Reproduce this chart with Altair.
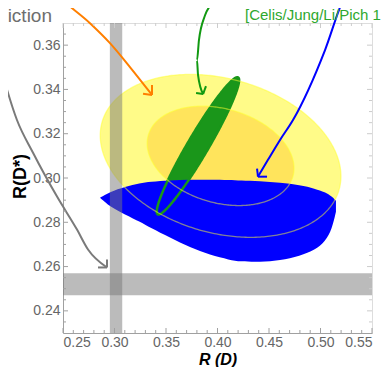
import altair as alt
import numpy as np
import pandas as pd

# ---------------- axes ----------------
x_domain = [0.25, 0.55]
y_domain = [0.23, 0.37]
x_major = [0.25, 0.30, 0.35, 0.40, 0.45, 0.50, 0.55]
y_major = [0.24, 0.26, 0.28, 0.30, 0.32, 0.34, 0.36]
x_minor = [0.26, 0.27, 0.28, 0.29, 0.31, 0.32, 0.33, 0.34, 0.36, 0.37, 0.38, 0.39,
           0.41, 0.42, 0.43, 0.44, 0.46, 0.47, 0.48, 0.49, 0.51, 0.52, 0.53, 0.54]
y_minor = [0.235, 0.245, 0.25, 0.255, 0.265, 0.27, 0.275, 0.285, 0.29, 0.295,
           0.305, 0.31, 0.315, 0.325, 0.33, 0.335, 0.345, 0.35, 0.355, 0.365]

# ---------------- experimental average (yellow) ----------------
exp_center = [0.403, 0.310]
exp_sigma = [0.047, 0.0148]
exp_rho = -0.25
exp_dchi2 = [6.18, 2.30]          # outer, inner
exp_colors = ["#fffb88", "#ffe45c"]

# ---------------- Celis/Jung/Li/Pich (green) ----------------
cel_center = [0.381, 0.3145]
cel_sigma = [0.040, 0.031]
cel_rho = 0.957

# ---------------- blue region boundary ----------------
blue_x = [0.2859, 0.2956, 0.3102, 0.3248, 0.3345, 0.3539, 0.3733, 0.3927, 0.4120,
          0.4218, 0.4413, 0.4607, 0.4801, 0.4947, 0.5044, 0.5112, 0.5150]
blue_upper = [0.2911, 0.2938, 0.2961, 0.2977, 0.2983, 0.2990, 0.2992, 0.2992, 0.2991,
              0.2988, 0.2986, 0.2979, 0.2968, 0.2952, 0.2936, 0.2916, 0.2897]
blue_lower = [0.2911, 0.2871, 0.2835, 0.2803, 0.2776, 0.2731, 0.2686, 0.2652, 0.2630,
              0.2623, 0.2620, 0.2628, 0.2648, 0.2676, 0.2712, 0.2770, 0.2848]

# ---------------- SM prediction bands ----------------
sm_rd = [0.2955, 0.3075]
sm_rds = [0.247, 0.257]

# ---------------- arrows ----------------
arrows = {
    "orange": dict(x=[0.2422, 0.2500, 0.2762, 0.2956, 0.3150, 0.3364],
                   y=[0.3839, 0.3803, 0.3699, 0.3609, 0.3501, 0.3375],
                   head=[(0.3277, 0.3380), (0.3364, 0.3420)], color="#ff7f00"),
    "gray": dict(x=[0.1811, 0.1888, 0.2053, 0.2209, 0.2442, 0.2636, 0.2743, 0.2927],
                 y=[0.3645, 0.3510, 0.3262, 0.3114, 0.2916, 0.2767, 0.2677, 0.2596],
                 head=[(0.2840, 0.2596), (0.2927, 0.2632)], color="#7a7a7a"),
    "green": dict(x=[0.3966, 0.3947, 0.3879, 0.3820, 0.3801, 0.3811, 0.3860],
                  y=[0.3839, 0.3803, 0.3735, 0.3623, 0.3532, 0.3465, 0.3379],
                  head=[(0.3792, 0.3384), (0.3888, 0.3415)], color="#119911"),
    "blue": dict(x=[0.5257, 0.5218, 0.5044, 0.4733, 0.4607, 0.4490, 0.4393],
                 y=[0.3839, 0.3803, 0.3578, 0.3262, 0.3172, 0.3082, 0.3006],
                 head=[(0.4481, 0.3006), (0.4384, 0.3042)], color="#0000ff"),
}

W, H = 309, 310


def ellipse_fill(c, s, rho, k):
    t = np.linspace(0, np.pi, 181)
    r = np.sqrt(1 - rho ** 2)
    x = c[0] + k * s[0] * np.cos(t)
    yu = c[1] + k * s[1] * (rho * np.cos(t) + r * np.sin(t))
    yl = c[1] + k * s[1] * (rho * np.cos(t) - r * np.sin(t))
    return pd.DataFrame({"x": x, "y": yu, "y2": yl})


def ellipse_line(c, s, rho, k, name):
    t = np.linspace(0, 2 * np.pi, 361)
    r = np.sqrt(1 - rho ** 2)
    x = c[0] + k * s[0] * np.cos(t)
    y = c[1] + k * s[1] * (rho * np.cos(t) + r * np.sin(t))
    return pd.DataFrame({"x": x, "y": y, "t": t, "g": name})


xs = alt.Scale(domain=x_domain, nice=False, zero=False)
ys = alt.Scale(domain=y_domain, nice=False, zero=False)
FONT = "Liberation Sans"

xaxis = alt.Axis(values=x_major, format=".2f", ticks=False, grid=False,
                 labelFontSize=14, labelColor="#666666", labelFont=FONT, labelPadding=2,
                 domainColor="#a0a0a0", title="R (D)", titleFont=FONT,
                 titleFontSize=16, titleFontWeight="bold", titleFontStyle="italic",
                 titleColor="black", titleBaseline="alphabetic", titleY=31)
yaxis = alt.Axis(values=y_major, format=".2f", ticks=False, grid=False,
                 labelFontSize=14, labelColor="#666666", labelFont=FONT, labelPadding=3,
                 domainColor="#a0a0a0", title="R(D*)", titleFont=FONT,
                 titleFontSize=18, titleFontWeight="bold", titleColor="black",
                 titleBaseline="alphabetic", titleAngle=270, titleAlign="center",
                 titleX=-38, titleY=153)

layers = []

# yellow fills
for k2, col in zip(exp_dchi2, exp_colors):
    df = ellipse_fill(exp_center, exp_sigma, exp_rho, np.sqrt(k2))
    layers.append(alt.Chart(df).mark_area(color=col, interpolate="linear").encode(
        x=alt.X("x:Q", scale=xs, axis=xaxis),
        y=alt.Y("y:Q", scale=ys, axis=yaxis),
        y2="y2:Q"))

# green fill
gdf = ellipse_fill(cel_center, cel_sigma, cel_rho, 1.0)
layers.append(alt.Chart(gdf).mark_area(color="#1a961a").encode(
    x=alt.X("x:Q", scale=xs), y=alt.Y("y:Q", scale=ys), y2="y2:Q"))

# blue region
bdf = pd.DataFrame({"x": blue_x, "y": blue_upper, "y2": blue_lower})
layers.append(alt.Chart(bdf).mark_area(color="#0000ff", interpolate="basis").encode(
    x=alt.X("x:Q", scale=xs), y=alt.Y("y:Q", scale=ys), y2="y2:Q"))

# green outline
gl = ellipse_line(cel_center, cel_sigma, cel_rho, 1.0, "g")
layers.append(alt.Chart(gl).mark_line(color="#1a961a", strokeWidth=2.5).encode(
    x=alt.X("x:Q", scale=xs), y=alt.Y("y:Q", scale=ys), order="t:Q"))

# yellow outlines
yl = pd.concat([ellipse_line(exp_center, exp_sigma, exp_rho, np.sqrt(k2), str(k2))
                for k2 in exp_dchi2])
layers.append(alt.Chart(yl).mark_line(color="#ffff30", opacity=0.5, strokeWidth=1.3).encode(
    x=alt.X("x:Q", scale=xs), y=alt.Y("y:Q", scale=ys), order="t:Q", detail="g:N"))

# SM bands
band_df = pd.DataFrame({
    "x": [sm_rd[0], x_domain[0]], "x2": [sm_rd[1], x_domain[1]],
    "y": [y_domain[0], sm_rds[0]], "y2": [y_domain[1], sm_rds[1]]})
layers.append(alt.Chart(band_df).mark_rect(color="#787878", opacity=0.5).encode(
    x=alt.X("x:Q", scale=xs), x2="x2:Q", y=alt.Y("y:Q", scale=ys), y2="y2:Q"))

# arrows
for name, a in arrows.items():
    adf = pd.DataFrame({"x": a["x"], "y": a["y"], "i": range(len(a["x"]))})
    layers.append(alt.Chart(adf).mark_line(color=a["color"], strokeWidth=2,
                                           interpolate="monotone").encode(
        x=alt.X("x:Q", scale=xs), y=alt.Y("y:Q", scale=ys), order="i:Q"))
    tip = (a["x"][-1], a["y"][-1])
    hdf = pd.DataFrame({"x": [tip[0], tip[0]], "y": [tip[1], tip[1]],
                        "x2": [p[0] for p in a["head"]], "y2": [p[1] for p in a["head"]]})
    layers.append(alt.Chart(hdf).mark_rule(color=a["color"], strokeWidth=2).encode(
        x=alt.X("x:Q", scale=xs), y=alt.Y("y:Q", scale=ys), x2="x2:Q", y2="y2:Q"))

# texts
layers.append(alt.Chart(pd.DataFrame({"s": ["SM prediction"]})).mark_text(
    align="right", baseline="alphabetic", fontSize=19, font=FONT, color="#6e6e6e").encode(
    text="s:N", x=alt.value(-11), y=alt.value(-1)))
layers.append(alt.Chart(pd.DataFrame({"s": ["[Celis/Jung/Li/Pich 17]"]})).mark_text(
    align="left", baseline="alphabetic", fontSize=15, font=FONT, color="#2ea82e").encode(
    text="s:N", x=alt.value(182), y=alt.value(-3)))

# ticks (inward, all four sides)
tick_col = "#a0a0a0"
for vals, ln in [(x_major, 5), (x_minor, 3)]:
    d = pd.DataFrame({"v": vals})
    layers.append(alt.Chart(d).mark_rule(color=tick_col).encode(
        x=alt.X("v:Q", scale=xs), y=alt.value(H), y2=alt.value(H - ln)))
    layers.append(alt.Chart(d).mark_rule(color="#cccccc").encode(
        x=alt.X("v:Q", scale=xs), y=alt.value(0), y2=alt.value(ln)))
for vals, ln in [(y_major, 5), (y_minor, 3)]:
    d = pd.DataFrame({"v": vals})
    layers.append(alt.Chart(d).mark_rule(color=tick_col).encode(
        y=alt.Y("v:Q", scale=ys), x=alt.value(0), x2=alt.value(ln)))
    layers.append(alt.Chart(d).mark_rule(color="#cccccc").encode(
        y=alt.Y("v:Q", scale=ys), x=alt.value(W), x2=alt.value(W - ln)))

chart = alt.layer(*layers).properties(
    width=W, height=H,
    autosize=alt.AutoSizeParams(type="none"),
    padding={"left": 55, "top": 15, "right": 9, "bottom": 34},
).configure_view(stroke="#cccccc").configure(background="white")

chart.save("out.html", embed_options={"renderer": "svg", "actions": False})
